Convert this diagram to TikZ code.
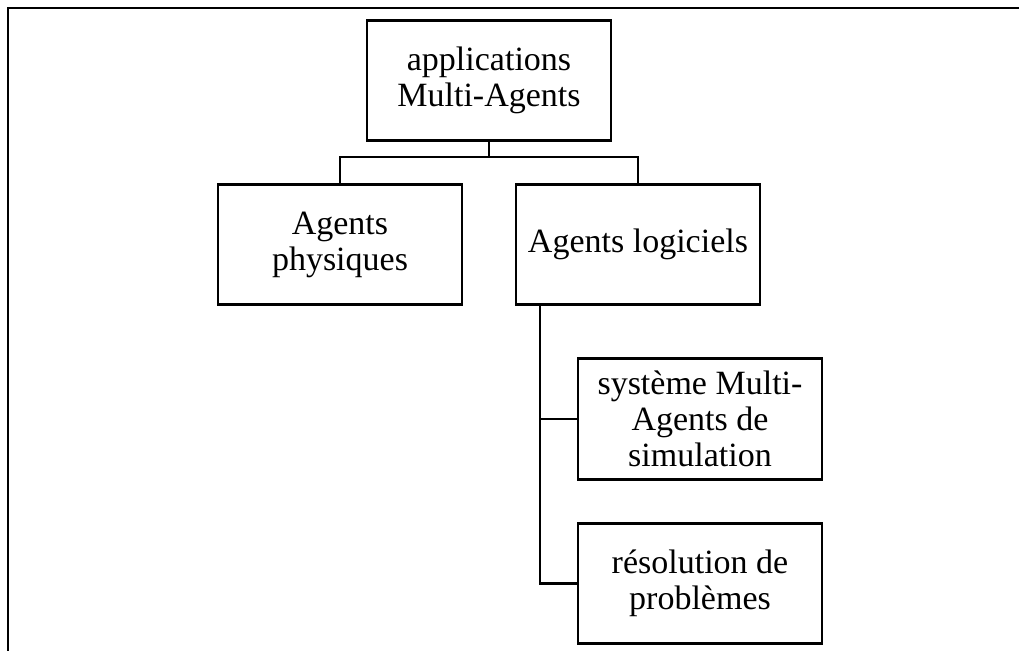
\documentclass[tikz,border=0pt]{standalone}
\usepackage{fontspec}
\setmainfont{Liberation Serif}
\begin{document}
\begin{tikzpicture}[x=1pt,y=-1pt,
  box/.style={draw, line width=2.8pt, minimum width=244pt, minimum height=120.5pt,
    align=center, inner sep=0pt, font=\fontsize{34}{36}\selectfont},
  link/.style={line width=2.8pt, line join=miter},
  frame/.style={line width=2.2pt}]
\useasboundingbox (0,0) rectangle (1019,651);
\coordinate (ftr) at (1019,8);
\coordinate (ftl) at (8,8);
\coordinate (fbl) at (8,651);
\draw[frame] (ftr) -- (ftl) -- (fbl);
\node[box] (top) at (489,80.5) {applications\\Multi-Agents};
\node[box] (phys) at (340,244.5) {Agents\\physiques};
\node[box] (log) at (638,244.5) {Agents logiciels};
\node[box] (sys) at (700,419) {système Multi-\\Agents de\\simulation};
\node[box] (res) at (700,583.5) {résolution de\\problèmes};
\coordinate (bus) at (489,157);
\draw[link] (top.south) -- (bus);
\draw[link] (phys.north) |- (bus) -| (log.north);
\coordinate (trunk) at (540,306);
\draw[link] (trunk) |- (res.west);
\draw[link] (trunk |- sys.west) -- (sys.west);
\end{tikzpicture}
\end{document}
